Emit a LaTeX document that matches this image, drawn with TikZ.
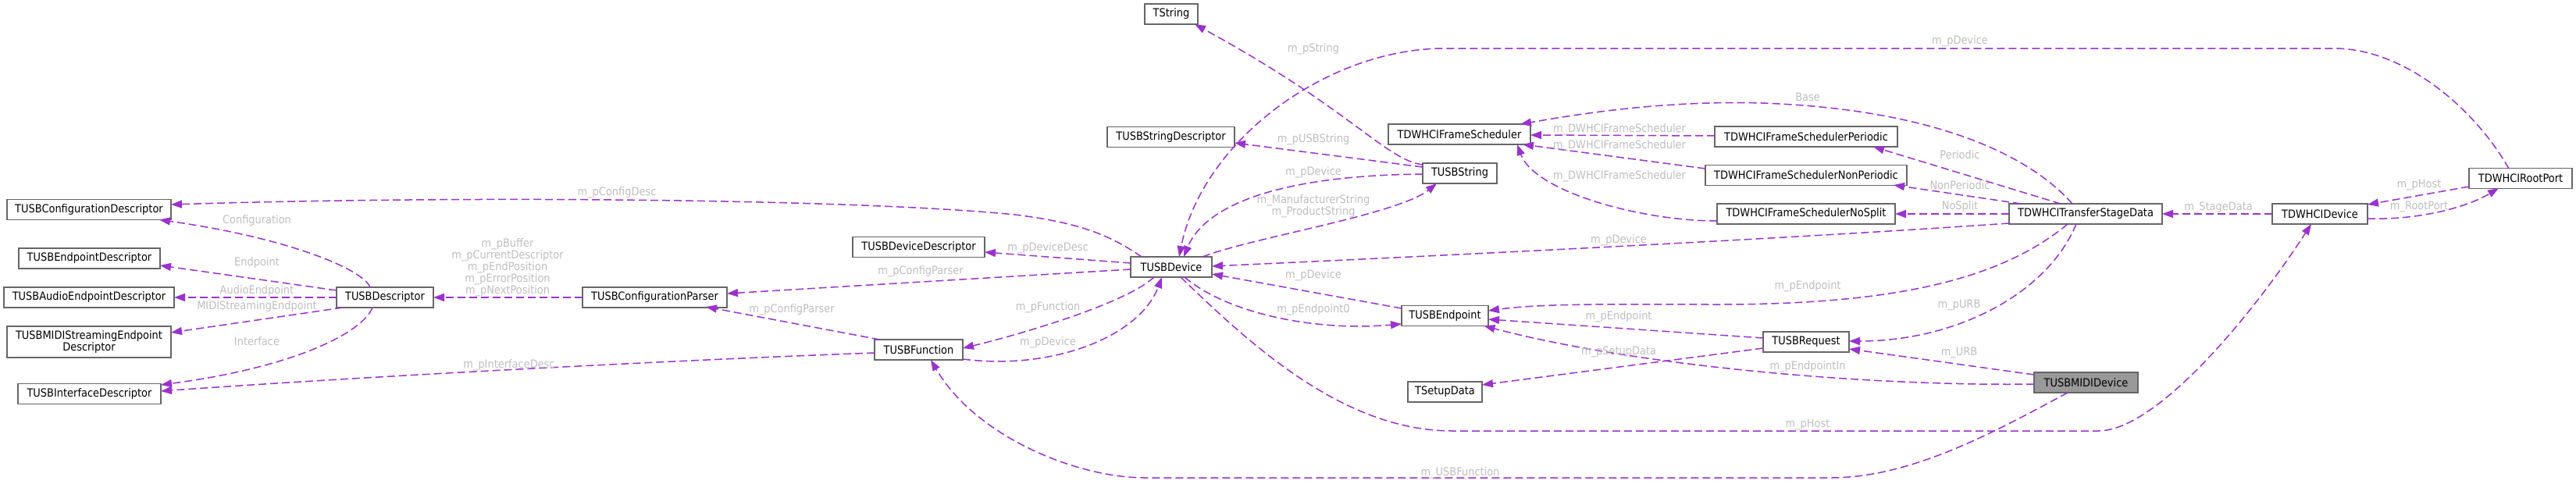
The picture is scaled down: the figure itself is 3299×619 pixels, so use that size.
\documentclass[tikz,border=0pt]{standalone}
\usepackage{fontspec}
\setmainfont{DejaVu Sans}[FakeStretch=0.9]
\usetikzlibrary{arrows.meta,calc}
\definecolor{edgec}{HTML}{9A32CD}
\definecolor{lblc}{HTML}{BEBEBE}
\definecolor{bordc}{HTML}{666666}
\definecolor{focusc}{HTML}{999999}
\newcommand\nodefont{\fontsize{14.4}{15}\selectfont}
\tikzset{
  box/.style={draw=bordc, line width=1.6pt, fill=white, inner sep=0pt, minimum height=26pt, font=\nodefont, text=black, align=center},
  focus/.style={box, fill=focusc},
  edge/.style={draw=edgec, line width=1.5pt, dash pattern=on 10pt off 5pt, -{Triangle[length=14pt,width=10pt]}},
  lbl/.style={text=lblc, inner sep=0pt, font=\nodefont, align=center},
}
\begin{document}
\begin{tikzpicture}[x=1pt,y=-1pt]
\fill[white] (0,0) rectangle (3299,619);
\useasboundingbox (0,0) rectangle (3299,619);
% nodes
\node[box, minimum width=210pt] (cfgdesc) at (114,268.5) {TUSBConfigurationDescriptor};
\node[box, minimum width=181pt] (epdesc) at (114.5,331) {TUSBEndpointDescriptor};
\node[box, minimum width=218pt] (audiodesc) at (114,381) {TUSBAudioEndpointDescriptor};
\node[box, minimum width=210pt, minimum height=40pt] (midisdesc) at (114,438) {TUSBMIDIStreamingEndpoint\\Descriptor};
\node[box, minimum width=183pt] (ifdesc) at (114.5,504.5) {TUSBInterfaceDescriptor};
\node[box, minimum width=124pt] (desc) at (493,381) {TUSBDescriptor};
\node[box, minimum width=185pt] (parser) at (838.5,381) {TUSBConfigurationParser};
\node[box, minimum width=169pt] (devdesc) at (1176.5,316.5) {TUSBDeviceDescriptor};
\node[box, minimum width=113pt] (func) at (1176.5,448) {TUSBFunction};
\node[box, minimum width=68pt] (tstring) at (1500,18) {TString};
\node[box, minimum width=163pt] (strdesc) at (1499.5,175.5) {TUSBStringDescriptor};
\node[box, minimum width=104pt] (dev) at (1500,342) {TUSBDevice};
\node[box, minimum width=95pt] (usbstr) at (1869.5,222) {TUSBString};
\node[box, minimum width=182pt] (fsched) at (1869,172) {TDWHCIFrameScheduler};
\node[box, minimum width=111pt] (ep) at (1850.5,404.5) {TUSBEndpoint};
\node[box, minimum width=95pt] (setup) at (1850.5,502) {TSetupData};
\node[box, minimum width=234pt] (fsper) at (2313,175) {TDWHCIFrameSchedulerPeriodic};
\node[box, minimum width=258pt] (fsnonper) at (2313,224.5) {TDWHCIFrameSchedulerNonPeriodic};
\node[box, minimum width=228pt] (fsnosplit) at (2313,274) {TDWHCIFrameSchedulerNoSplit};
\node[box, minimum width=110pt] (req) at (2313,438) {TUSBRequest};
\node[box, minimum width=196pt] (tsd) at (2671,274) {TDWHCITransferStageData};
\node[focus, minimum width=133pt] (midi) at (2671.5,490) {TUSBMIDIDevice};
\node[box, minimum width=122pt] (hcidev) at (2971,274) {TDWHCIDevice};
\node[box, minimum width=132pt] (rootport) at (3228,228.5) {TDWHCIRootPort};
% edges
\draw[edge] ($(desc)+(-19,-13)$) .. controls (465,345) and (370,305) .. ($(cfgdesc)+(90,13)$);
\draw[edge] ($(desc)+(-62,-9)$) -- ($(epdesc)+(90.5,9)$);
\draw[edge] ($(desc)+(-62,0)$) -- ($(audiodesc)+(109,0)$);
\draw[edge] ($(desc)+(-54,13)$) -- ($(midisdesc)+(105,-12)$);
\draw[edge] ($(desc)+(-16,13)$) .. controls (465,425) and (380,470) .. ($(ifdesc)+(91.5,-11.5)$);
\draw[edge] ($(parser)+(-92.5,0)$) -- ($(desc)+(62,0)$);
\draw[edge] ($(dev)+(-38,-13)$) .. controls (1420,300) and (1380,285) .. (1300,275) .. controls (1100,255) and (600,250) .. ($(cfgdesc)+(105,-6.5)$);
\draw[edge] ($(func)+(-56.5,4)$) .. controls (900,460) and (500,480) .. ($(ifdesc)+(91.5,-3.5)$);
\draw[edge] ($(dev)+(-52,-5)$) -- ($(devdesc)+(84.5,6.5)$);
\draw[edge] ($(dev)+(-52,3)$) -- ($(parser)+(92.5,-5)$);
\draw[edge] ($(func)+(-50,-13)$) -- ($(parser)+(65.5,12)$);
\draw[edge] ($(dev)+(-22,13)$) .. controls (1440,390) and (1300,430) .. ($(func)+(56.5,-2)$);
\draw[edge] ($(func)+(56.5,12)$) .. controls (1350,475) and (1460,430) .. ($(dev)+(-12,13)$);
\draw[edge] ($(midi)+(-23.5,13)$) .. controls (2560,550) and (2450,612) .. (2345,612) -- (1466,612) .. controls (1380,612) and (1250,560) .. ($(func)+(15.5,13)$);
\draw[edge] ($(usbstr)+(-47.5,-11)$) .. controls (1775,205) and (1730,140) .. ($(tstring)+(30,13)$);
\draw[edge] ($(usbstr)+(-47.5,-8)$) -- ($(strdesc)+(81.5,7.5)$);
\draw[edge] ($(usbstr)+(-47.5,1)$) .. controls (1620,225) and (1540,270) .. ($(dev)+(16,-13)$);
\draw[edge] ($(dev)+(40,-13)$) .. controls (1600,305) and (1790,275) .. ($(usbstr)+(-29.5,13)$);
\draw[edge] ($(rootport)+(-15,-12.5)$) .. controls (3170,140) and (3080,62) .. (2989,62) -- (1850,62) .. controls (1700,62) and (1540,180) .. ($(dev)+(10,-13)$);
\draw[edge] ($(fsper)+(-117,-1)$) -- ($(fsched)+(91,1)$);
\draw[edge] ($(fsnonper)+(-129,-8.5)$) -- ($(fsched)+(81,13)$);
\draw[edge] ($(fsnosplit)+(-114,9)$) .. controls (2100,283) and (1965,245) .. ($(fsched)+(74,13)$);
\draw[edge] ($(tsd)+(-17,-13)$) .. controls (2600,200) and (2480,140) .. (2256,132) .. controls (2120,128) and (2000,150) .. ($(fsched)+(78,-13)$);
\draw[edge] ($(tsd)+(-32,-13)$) -- ($(fsper)+(86,13)$);
\draw[edge] ($(tsd)+(-83,-13)$) -- ($(fsnonper)+(112,12.5)$);
\draw[edge] ($(tsd)+(-98,0)$) -- ($(fsnosplit)+(114,0)$);
\draw[edge] ($(tsd)+(-98,12)$) .. controls (2300,305) and (1900,325) .. ($(dev)+(52,-1)$);
\draw[edge] ($(tsd)+(-23,13)$) .. controls (2560,360) and (2420,390) .. (2200,390) .. controls (2080,390) and (1980,388) .. ($(ep)+(55.5,-6.5)$);
\draw[edge] ($(tsd)+(-12,13)$) .. controls (2620,380) and (2500,437) .. ($(req)+(55,-1)$);
\draw[edge] ($(req)+(-55,-5)$) -- ($(ep)+(55.5,4.5)$);
\draw[edge] ($(req)+(-55,8)$) -- ($(setup)+(47.5,-9)$);
\draw[edge] ($(midi)+(-66.5,-10)$) -- ($(req)+(55,9)$);
\draw[edge] ($(midi)+(-66.5,2)$) .. controls (2400,495) and (2100,470) .. ($(ep)+(50,13)$);
\draw[edge] ($(dev)+(12,13)$) .. controls (1600,440) and (1720,552) .. (1860,552) -- (2687,552) .. controls (2760,552) and (2880,410) .. ($(hcidev)+(-11,13)$);
\draw[edge] ($(dev)+(17,13)$) .. controls (1570,400) and (1680,425) .. ($(ep)+(-55.5,10.5)$);
\draw[edge] ($(ep)+(-55.5,-9.5)$) -- ($(dev)+(52,9)$);
\draw[edge] ($(hcidev)+(-61,0)$) -- ($(tsd)+(98,0)$);
\draw[edge] ($(rootport)+(-66,10.5)$) -- ($(hcidev)+(61,-12)$);
\draw[edge] ($(hcidev)+(61,6)$) .. controls (3100,282) and (3160,265) .. ($(rootport)+(-28,12.5)$);
% labels
\node[lbl] (l1) at (329,283) {Configuration};
\node[lbl] (l2) at (329,337) {Endpoint};
\node[lbl] (l3) at (329,373) {AudioEndpoint};
\node[lbl] (l4) at (329,393) {MIDIStreamingEndpoint};
\node[lbl] (l5) at (329,437) {Interface};
\node[lbl] (l6) at (650,343) {m\_pBuffer\\m\_pCurrentDescriptor\\m\_pEndPosition\\m\_pErrorPosition\\m\_pNextPosition};
\node[lbl] (l7) at (790,247) {m\_pConfigDesc};
\node[lbl] (l8) at (652,468) {m\_pInterfaceDesc};
\node[lbl] (l9) at (1342,318) {m\_pDeviceDesc};
\node[lbl] (l10) at (1179,348) {m\_pConfigParser};
\node[lbl] (l11) at (1014,397) {m\_pConfigParser};
\node[lbl] (l12) at (1342,394) {m\_pFunction};
\node[lbl] (l13) at (1342,439) {m\_pDevice};
\node[lbl] (l14) at (1870,606) {m\_USBFunction};
\node[lbl] (l15) at (1682,63) {m\_pString};
\node[lbl] (l16) at (1682,179) {m\_pUSBString};
\node[lbl] (l17) at (1682,221) {m\_pDevice};
\node[lbl] (l18) at (1682,264) {m\_ManufacturerString\\m\_ProductString};
\node[lbl] (l19) at (2510,53) {m\_pDevice};
\node[lbl] (l20) at (2074,166) {m\_DWHCIFrameScheduler};
\node[lbl] (l21) at (2074,187) {m\_DWHCIFrameScheduler};
\node[lbl] (l22) at (2074,226) {m\_DWHCIFrameScheduler};
\node[lbl] (l23) at (2315,124) {Base};
\node[lbl] (l24) at (2510,198) {Periodic};
\node[lbl] (l25) at (2510,237) {NonPeriodic};
\node[lbl] (l26) at (2510,265) {NoSplit};
\node[lbl] (l27) at (2073,308) {m\_pDevice};
\node[lbl] (l28) at (2315,367) {m\_pEndpoint};
\node[lbl] (l29) at (2509,391) {m\_pURB};
\node[lbl] (l30) at (2073,406) {m\_pEndpoint};
\node[lbl] (l31) at (2073,451) {m\_pSetupData};
\node[lbl] (l32) at (2509,452) {m\_URB};
\node[lbl] (l33) at (2315,470) {m\_pEndpointIn};
\node[lbl] (l34) at (2315,544) {m\_pHost};
\node[lbl] (l35) at (1682,397) {m\_pEndpoint0};
\node[lbl] (l36) at (1682,353) {m\_pDevice};
\node[lbl] (l37) at (2841,266) {m\_StageData};
\node[lbl] (l38) at (3098,237) {m\_pHost};
\node[lbl] (l39) at (3098,265) {m\_RootPort};
\end{tikzpicture}
\end{document}
